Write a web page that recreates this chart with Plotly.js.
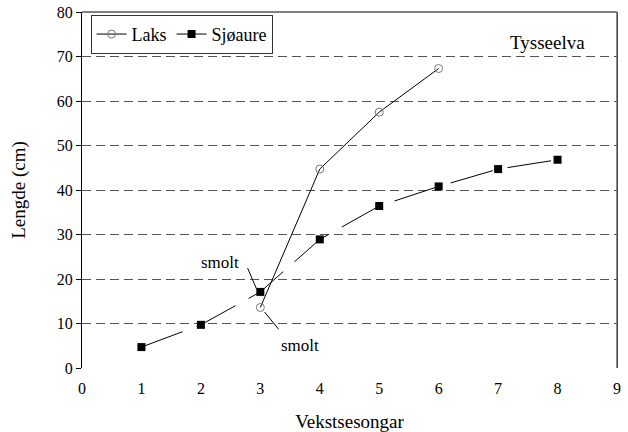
<!DOCTYPE html>
<html>
<head>
<meta charset="utf-8">
<script src="https://cdn.plot.ly/plotly-3.0.1.min.js"></script>
<style>html,body{margin:0;padding:0;background:#fff;}#chart{width:628px;height:432px;}</style>
</head>
<body>
<div id="chart"></div>
<script>
const laksX = [3, 4, 5, 6];
const laksY = [13.6, 44.7, 57.5, 67.3];
const sjoX = [1, 2, 3, 4, 5, 6, 7, 8];
const sjoY = [4.7, 9.7, 17.1, 28.9, 36.4, 40.8, 44.7, 46.8];
const xTicks = [0, 1, 2, 3, 4, 5, 6, 7, 8, 9];
const yTicks = [0, 10, 20, 30, 40, 50, 60, 70, 80];

const font = "'Liberation Serif', 'Times New Roman', Times, serif";

const traces = [
  {
    x: laksX, y: laksY, name: 'Laks', type: 'scatter', mode: 'lines+markers',
    line: {color: '#000', width: 1},
    marker: {symbol: 'circle-open', size: 8, color: '#777', line: {color: '#777', width: 1}}
  },
  {
    x: sjoX, y: sjoY, name: 'Sjøaure', type: 'scatter', mode: 'lines+markers',
    line: {color: '#000', width: 1, dash: '44px,15px'},
    marker: {symbol: 'square', size: 8, color: '#000'}
  }
];

const layout = {
  width: 628, height: 432,
  margin: {l: 82, r: 11, t: 12, b: 64},
  paper_bgcolor: '#fff', plot_bgcolor: '#fff',
  font: {family: font, size: 16, color: '#000'},
  showlegend: true,
  legend: {
    x: 0.016, y: 0.992, xanchor: 'left', yanchor: 'top',
    orientation: 'h', bgcolor: '#fff', bordercolor: '#333', borderwidth: 1,
    font: {family: font, size: 18, color: '#000'},
    itemwidth: 30, tracegroupgap: 0
  },
  xaxis: {
    range: [0, 9], tickvals: xTicks, ticktext: xTicks.map(String),
    showgrid: false, zeroline: false, showline: false, ticks: '',
    ticklabelstandoff: 9,
    tickfont: {family: font, size: 16}, fixedrange: true,
    title: {text: 'Vekstsesongar', font: {family: font, size: 19}, standoff: 18}
  },
  yaxis: {
    range: [0, 80], tickvals: yTicks, ticktext: yTicks.map(String),
    showgrid: true, gridcolor: '#555', gridwidth: 1, griddash: '9px,5px',
    zeroline: false, showline: true, linecolor: '#000', linewidth: 1, mirror: true,
    ticks: 'outside', ticklen: 5, tickcolor: '#000',
    tickfont: {family: font, size: 16}, fixedrange: true,
    title: {text: 'Lengde (cm)', font: {family: font, size: 19}, standoff: 26}
  },
  shapes: [
    {type: 'line', xref: 'paper', yref: 'paper', x0: 0, x1: 1, y0: 1, y1: 1, line: {color: '#000', width: 1}},
    {type: 'line', xref: 'paper', yref: 'paper', x0: 1, x1: 1, y0: 0, y1: 1, line: {color: '#666', width: 1.5}},
    {type: 'line', xref: 'x', yref: 'y', x0: 2.786, y0: 22.45, x1: 2.938, y1: 17.72, line: {color: '#000', width: 1}},
    {type: 'line', xref: 'x', yref: 'y', x0: 3.072, y0: 12.57, x1: 3.308, y1: 8.72, line: {color: '#000', width: 1}}
  ],
  annotations: [
    {x: 0.944, y: 0.915, xref: 'paper', yref: 'paper', text: 'Tysseelva', showarrow: false,
     xanchor: 'right', yanchor: 'middle', font: {family: font, size: 19}},
    {x: 2.315, y: 23.8, xref: 'x', yref: 'y', text: 'smolt', showarrow: false,
     font: {family: font, size: 17}},
    {x: 3.673, y: 4.95, xref: 'x', yref: 'y', text: 'smolt', showarrow: false,
     font: {family: font, size: 17}}
  ]
};

Plotly.newPlot('chart', traces, layout, {displayModeBar: false, staticPlot: true});
</script>
</body>
</html>
